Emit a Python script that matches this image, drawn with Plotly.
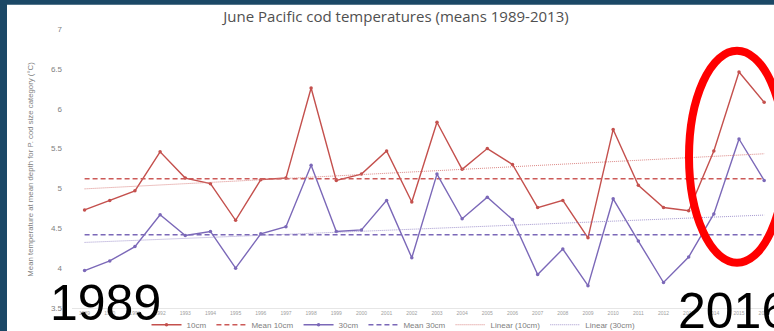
import numpy as np
import plotly.graph_objects as go

years = list(range(1989, 2017))
temp_10cm = [4.73, 4.85, 4.97, 5.46, 5.13, 5.06, 4.60, 5.11, 5.13, 6.26,
             5.10, 5.18, 5.47, 4.83, 5.83, 5.24, 5.50, 5.30, 4.76, 4.85,
             4.38, 5.74, 5.04, 4.76, 4.72, 5.47, 6.46, 6.08]
temp_30cm = [3.97, 4.09, 4.27, 4.67, 4.41, 4.46, 4.00, 4.43, 4.52, 5.29,
             4.46, 4.48, 4.85, 4.13, 5.18, 4.62, 4.89, 4.61, 3.92, 4.24,
             3.78, 4.87, 4.34, 3.82, 4.14, 4.68, 5.62, 5.10]
y_ticks = [3.5, 4, 4.5, 5, 5.5, 6, 6.5, 7]
y_ticktext = ["3.5", "4", "4.5", "5", "5.5", "6", "6.5", "7"]

RED = "#c4504d"
PURPLE = "#7b68b8"

yrs = np.array(years)
a10 = np.array(temp_10cm)
a30 = np.array(temp_30cm)
base = yrs <= 2013
mean10 = a10[base].mean()
mean30 = a30[base].mean()
fit10 = np.polyval(np.polyfit(yrs, a10, 1), yrs)
fit30 = np.polyval(np.polyfit(yrs, a30, 1), yrs)

fig = go.Figure()
fig.add_trace(go.Scatter(x=years, y=temp_10cm, name="10cm", mode="lines+markers",
                         line=dict(color=RED, width=1.4), marker=dict(size=3.5, color=RED)))
fig.add_trace(go.Scatter(x=years, y=[mean10] * len(years), name="Mean 10cm", mode="lines",
                         line=dict(color="#cc5a58", width=1.5, dash="5px,3px")))
fig.add_trace(go.Scatter(x=years, y=temp_30cm, name="30cm", mode="lines+markers",
                         line=dict(color=PURPLE, width=1.4), marker=dict(size=3.5, color=PURPLE)))
fig.add_trace(go.Scatter(x=years, y=[mean30] * len(years), name="Mean 30cm", mode="lines",
                         line=dict(color=PURPLE, width=1.5, dash="5px,3px")))
fig.add_trace(go.Scatter(x=years, y=fit10, name="Linear (10cm)", mode="lines",
                         line=dict(color="#d77a78", width=0.9, dash="1px,1px")))
fig.add_trace(go.Scatter(x=years, y=fit30, name="Linear (30cm)", mode="lines",
                         line=dict(color="#9a8cc8", width=0.9, dash="1px,1px")))

PL, PT, PW, PH = 72, 29.3, 702, 279  # plot area in pixels


def px(xp):
    return (xp - PL) / PW


def py(yp):
    return (PT + PH - yp) / PH


fig.update_layout(
    width=774, height=331,
    margin=dict(l=72, r=0, t=29, b=23, autoexpand=False),
    paper_bgcolor="white", plot_bgcolor="white",
    font=dict(family="Liberation Sans, Arial, sans-serif", color="#808080"),
    title=dict(text="June Pacific cod temperatures (means 1989-2013)",
               x=px(396), xanchor="center", xref="paper", y=0.95, yanchor="middle",
               font=dict(family="Open Sans, sans-serif", size=15, color="#505050")),
    showlegend=True,
    legend=dict(orientation="h", x=0.458, xanchor="center", y=-0.06, yanchor="middle",
                font=dict(size=8, color="#808080"), bgcolor="rgba(0,0,0,0)",
                itemwidth=30, tracegroupgap=0),
)
fig.update_xaxes(range=[1988.5, 2016.39], tickvals=years, ticktext=[str(y) for y in years],
                 tickfont=dict(size=5, color="#a0a0a0"), showgrid=False, zeroline=False,
                 showline=True, linecolor="#e6e6e6", linewidth=1, ticks="", automargin=False)
fig.update_yaxes(range=[3.5, 7], tickvals=y_ticks, ticktext=y_ticktext,
                 tickfont=dict(size=8, color="#808080"), showgrid=False, zeroline=False,
                 showline=False, ticks="", ticklabelstandoff=9, automargin=False)

# y axis title as rotated text
fig.add_annotation(text="Mean temperature at mean depth for P. cod size category (°C)",
                   xref="paper", yref="paper", x=px(31), y=py(170), xanchor="center",
                   yanchor="middle", textangle=-90, showarrow=False,
                   font=dict(family="Liberation Sans, Arial", size=7.8, color="#808080"))

# slide frame
fig.add_shape(type="rect", xref="paper", yref="paper", x0=px(-20), x1=px(7), y0=py(360), y1=py(-20),
              fillcolor="#1b4866", line_width=0, layer="above")
fig.add_shape(type="rect", xref="paper", yref="paper", x0=px(-20), x1=px(800),
              y0=py(5), y1=py(-20), fillcolor="#1b4866", line_width=0, layer="above")

# red highlight ellipse
fig.add_shape(type="circle", xref="paper", yref="paper",
              x0=px(689), x1=px(785), y0=py(263), y1=py(51),
              line=dict(color="#ff0000", width=8), layer="above")

fig.add_annotation(text="1989", xref="paper", yref="paper", x=px(48), xanchor="left",
                   y=py(303.5), yanchor="middle", showarrow=False,
                   font=dict(family="Liberation Sans, Arial", size=50, color="black"))
fig.add_annotation(text="2016", xref="paper", yref="paper", x=px(676), xanchor="left",
                   y=py(311), yanchor="middle", showarrow=False,
                   font=dict(family="Liberation Sans, Arial", size=50, color="black"))

fig.write_html("out.html", config={"displayModeBar": False},
               post_script="document.body.style.margin='0';document.body.style.overflow='hidden';")
